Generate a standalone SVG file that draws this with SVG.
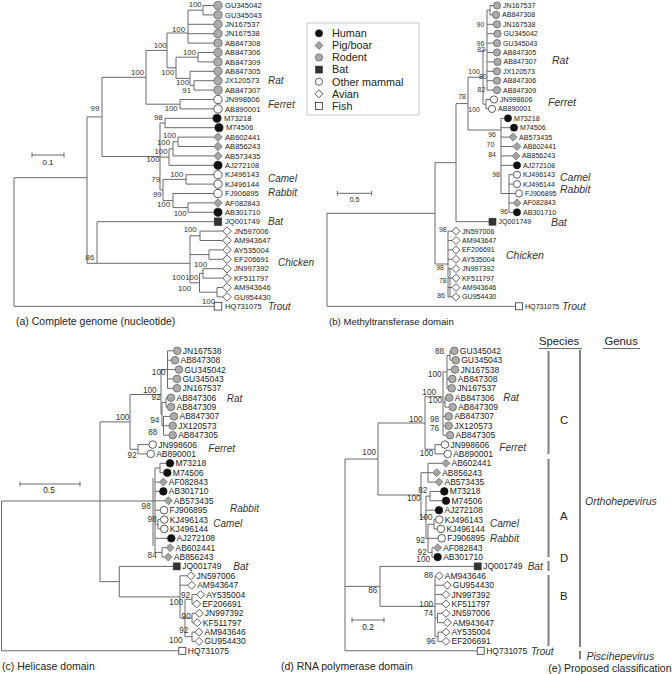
<svg xmlns="http://www.w3.org/2000/svg" xmlns:xlink="http://www.w3.org/1999/xlink" width="672" height="674" viewBox="0 0 672 674">
<defs>
<style>
text{font-family:"Liberation Sans",Arial,sans-serif;fill:#222}
.br{fill:none;stroke:#6a6a6a;stroke-width:1}
.bar{fill:none;stroke:#808080;stroke-width:2}
.hu{fill:#111;stroke:#111;stroke-width:0.6}
.pig{fill:#a3a3a3;stroke:#555;stroke-width:0.6}
.rod{fill:#acacac;stroke:#555;stroke-width:0.7}
.bat{fill:#333;stroke:#333;stroke-width:0.6}
.oth,.avi,.fish{fill:#fff;stroke:#333;stroke-width:0.8}
.ta text{font-size:7.6px}
.tb text{font-size:7.1px}
.tc text{font-size:8.5px}
.bs text{text-anchor:end;fill:#333}
.bsa text{font-size:7.8px}
.bsb text{font-size:7px}
.bsc text{font-size:8.2px}
.sp{font-style:italic;fill:#333}
.cap{font-size:10.5px}
.hd{font-size:11.3px}
.lg{font-size:10.8px}
</style>
<circle id="ca" r="4.1"/>
<path id="da" d="M0,-4.3L4.3,0L0,4.3L-4.3,0Z"/>
<rect id="sa" x="-3.8" y="-3.8" width="7.6" height="7.6"/>
<circle id="cb" r="3.6"/>
<path id="db" d="M0,-4L4,0L0,4L-4,0Z"/>
<rect id="sb" x="-3.5" y="-3.5" width="7" height="7"/>
<circle id="cc" r="3.8"/>
<path id="dc" d="M0,-4L4,0L0,4L-4,0Z"/>
<rect id="sc" x="-3.5" y="-3.5" width="7" height="7"/>
</defs>
<rect width="672" height="674" fill="#fff"/>

<!-- ================= PANEL A ================= -->
<g id="connectors-a">
<path class="br" d="M203 5.5H213.9M203 14.9H213.9M203 5.5V14.9M188 10.2H203M188 24.3H213.9M188 33.7H213.9M188 43.1H213.9M188 10.2V43.1M198 52.5H213.9M198 61.9H213.9M198 52.5V61.9M194 80.7H213.9M194 90.1H213.9M194 80.7V90.1M190 71.3H213.9M190 85.4H194M190 71.3V85.4M176 57.2H198M176 78.35H190M176 57.2V78.35M167 33H188M167 67.8H176M167 33V67.8M180 99.5H213.9M180 108.9H213.9M180 99.5V108.9M146 50.4H167M146 104.2H180M146 50.4V104.2"/>
<path class="br" d="M165 118.3H212.9M165 127.7H214.9M165 118.3V127.7M178 137.1H213.7M178 146.5H213.7M178 137.1V146.5M173 141.8H178M173 155.9H213.7M173 141.8V155.9M169 148.85H173M169 165.3H213.9M169 148.85V165.3M186 174.7H213.9M186 184.1H213.9M186 174.7V184.1M188 202.9H213.7M188 212.3H213.9M188 202.9V212.3M173 193.5H213.9M173 207.6H188M173 193.5V207.6M163 179.4H186M163 200.55H173M163 179.4V200.55M160 123H165M160 157.1H169M160 190H163M160 123V190M102 77.3H146M102 156.5H160M102 77.3V156.5"/>
<path class="br" d="M87 116.9H102M87 116.9V263.3M87 263.3H190M97 221.7H214M97 221.7V263.3M14 177.7H87M14 177.7V306.3M14 306.3H214"/>
<path class="br" d="M190 235.8V282.8M190 235.8H200M200 231.1H222.7M200 240.5H222.7M200 231.1V240.5M190 254.6H209M209 249.9H222.7M209 259.3H222.7M209 249.9V259.3M190 282.8H199.5M199.5 273.4V292.2M199.5 273.4H203M203 268.7H222.7M203 278.1H222.7M203 268.7V278.1M199.5 292.2H217M217 287.5H222.7M217 296.9H222.7M217 287.5V296.9"/>
<path class="br" d="M32 155H64M32 152.5V157.5M64 152.5V157.5"/>
</g>
<g id="leaves-a" class="ta">
<g id="a-GU345042"><use href="#ca" class="rod" x="218" y="5.5"/><text x="225" y="8.2">GU345042</text></g>
<g id="a-GU345043"><use href="#ca" class="rod" x="218" y="14.9"/><text x="225" y="17.6">GU345043</text></g>
<g id="a-JN167537"><use href="#ca" class="rod" x="218" y="24.3"/><text x="225" y="27">JN167537</text></g>
<g id="a-JN167538"><use href="#ca" class="rod" x="218" y="33.7"/><text x="225" y="36.4">JN167538</text></g>
<g id="a-AB847308"><use href="#ca" class="rod" x="218" y="43.1"/><text x="225" y="45.8">AB847308</text></g>
<g id="a-AB847306"><use href="#ca" class="rod" x="218" y="52.5"/><text x="225" y="55.2">AB847306</text></g>
<g id="a-AB847309"><use href="#ca" class="rod" x="218" y="61.9"/><text x="225" y="64.6">AB847309</text></g>
<g id="a-AB847305"><use href="#ca" class="rod" x="218" y="71.3"/><text x="225" y="74">AB847305</text></g>
<g id="a-JX120573"><use href="#ca" class="rod" x="218" y="80.7"/><text x="225" y="83.4">JX120573</text></g>
<g id="a-AB847307"><use href="#ca" class="rod" x="218" y="90.1"/><text x="225" y="92.8">AB847307</text></g>
<g id="a-JN998606"><use href="#ca" class="oth" x="218" y="99.5"/><text x="225" y="102.2">JN998606</text></g>
<g id="a-AB890001"><use href="#ca" class="oth" x="218" y="108.9"/><text x="225" y="111.6">AB890001</text></g>
<g id="a-M73218"><use href="#ca" class="hu" x="217" y="118.3"/><text x="224" y="121">M73218</text></g>
<g id="a-M74506"><use href="#ca" class="hu" x="219" y="127.7"/><text x="226" y="130.4">M74506</text></g>
<g id="a-AB602441"><use href="#da" class="pig" x="218" y="137.1"/><text x="225" y="139.8">AB602441</text></g>
<g id="a-AB856243"><use href="#da" class="pig" x="218" y="146.5"/><text x="225" y="149.2">AB856243</text></g>
<g id="a-AB573435"><use href="#da" class="pig" x="218" y="155.9"/><text x="225" y="158.6">AB573435</text></g>
<g id="a-AJ272108"><use href="#ca" class="hu" x="218" y="165.3"/><text x="225" y="168">AJ272108</text></g>
<g id="a-KJ496143"><use href="#ca" class="oth" x="218" y="174.7"/><text x="225" y="177.4">KJ496143</text></g>
<g id="a-KJ496144"><use href="#ca" class="oth" x="218" y="184.1"/><text x="225" y="186.8">KJ496144</text></g>
<g id="a-FJ906895"><use href="#ca" class="oth" x="218" y="193.5"/><text x="225" y="196.2">FJ906895</text></g>
<g id="a-AF082843"><use href="#da" class="pig" x="218" y="202.9"/><text x="225" y="205.6">AF082843</text></g>
<g id="a-AB301710"><use href="#ca" class="hu" x="218" y="212.3"/><text x="225" y="215">AB301710</text></g>
<g id="a-JQ001749"><use href="#sa" class="bat" x="218" y="221.7"/><text x="225" y="224.4">JQ001749</text></g>
<g id="a-JN597006"><use href="#da" class="avi" x="227" y="231.1"/><text x="234" y="233.8">JN597006</text></g>
<g id="a-AM943647"><use href="#da" class="avi" x="227" y="240.5"/><text x="234" y="243.2">AM943647</text></g>
<g id="a-AY535004"><use href="#da" class="avi" x="227" y="249.9"/><text x="234" y="252.6">AY535004</text></g>
<g id="a-EF206691"><use href="#da" class="avi" x="227" y="259.3"/><text x="234" y="262">EF206691</text></g>
<g id="a-JN997392"><use href="#da" class="avi" x="227" y="268.7"/><text x="234" y="271.4">JN997392</text></g>
<g id="a-KF511797"><use href="#da" class="avi" x="227" y="278.1"/><text x="234" y="280.8">KF511797</text></g>
<g id="a-AM943646"><use href="#da" class="avi" x="227" y="287.5"/><text x="234" y="290.2">AM943646</text></g>
<g id="a-GU954430"><use href="#da" class="avi" x="227" y="296.9"/><text x="234" y="299.6">GU954430</text></g>
<g id="a-HQ731075"><use href="#sa" class="fish" x="218" y="306.3"/><text x="225" y="309">HQ731075</text></g>
</g>
<g id="bootstrap-a" class="bs bsa">
<text x="201.7" y="7.3">100</text><text x="185" y="31.7">100</text><text x="166.7" y="48.3">100</text><text x="196" y="55">100</text><text x="174.3" y="75">100</text><text x="144" y="75">100</text><text x="189" y="85">100</text><text x="191" y="92.7">91</text><text x="99.3" y="111">99</text><text x="177.7" y="111">100</text><text x="162.7" y="120">98</text><text x="176" y="137.5">100</text><text x="170" y="145.3">100</text><text x="167.5" y="153.6">100</text><text x="159.5" y="161.5">100</text><text x="183.3" y="176.7">100</text><text x="160" y="182.3">79</text><text x="161.7" y="197.3">99</text><text x="170" y="207.3">100</text><text x="186.7" y="215.7">100</text><text x="196.7" y="232.3">100</text><text x="94.3" y="260">86</text><text x="207" y="267">100</text><text x="185" y="280">100</text><text x="198.3" y="280">100</text><text x="191" y="290.7">100</text><text x="215" y="304">100</text>
</g>
<text x="48" y="165" text-anchor="middle" font-size="7.8" fill="#333">0.1</text>
<g id="species-a" font-size="10">
<text class="sp" x="268" y="84">Rat</text><text class="sp" x="268" y="108">Ferret</text><text class="sp" x="268" y="182">Camel</text><text class="sp" x="268" y="196">Rabbit</text><text class="sp" x="268" y="225">Bat</text><text class="sp" x="278" y="266">Chicken</text><text class="sp" x="268" y="310">Trout</text>
</g>
<text class="cap" x="16" y="325">(a) Complete genome (nucleotide)</text>

<!-- ================= LEGEND ================= -->
<g id="legend">
<rect x="307" y="23" width="112" height="92" fill="#fff" stroke="#bbb" stroke-width="0.8"/>
<g id="lg-human"><use href="#cb" class="hu" x="319" y="33.3"/><text class="lg" x="332" y="37.1">Human</text></g>
<g id="lg-pig"><use href="#db" class="pig" x="319" y="45.4"/><text class="lg" x="332" y="49.2">Pig/boar</text></g>
<g id="lg-rodent"><use href="#cb" class="rod" x="319" y="57.5"/><text class="lg" x="332" y="61.3">Rodent</text></g>
<g id="lg-bat"><use href="#sb" class="bat" x="319" y="69.6"/><text class="lg" x="332" y="73.4">Bat</text></g>
<g id="lg-other"><use href="#cb" class="oth" x="319" y="81.7"/><text class="lg" x="332" y="85.5">Other mammal</text></g>
<g id="lg-avian"><use href="#db" class="avi" x="319" y="93.8"/><text class="lg" x="332" y="97.6">Avian</text></g>
<g id="lg-fish"><use href="#sb" class="fish" x="319" y="105.9"/><text class="lg" x="332" y="109.7">Fish</text></g>
</g>

<!-- ================= PANEL B ================= -->
<g id="connectors-b">
<path class="br" d="M490 5.5H493.4M490 14.9H492.4M490 5.5V14.9M487 10.2H490M487 10.2V90.1M487 24.3H493.4M487 33.7H493.9M487 43.1H493.4M487 52.5H493.4M487 61.9H493.9M487 71.3H493.4M487 80.7H493.4M487 90.1H493.4M486 99.5H490.4M486 108.9H488.4M486 99.5V108.9M483 50.15H487M483 104.2H486M483 50.15V104.2M468 77.2H483M468 130H501M468 77.2V130M456 103.6H468M456 103.6V221.7M456 221.7H489"/>
<path class="br" d="M501 118.3V193.5M501 118.3H504.4M501 127.7H510.4M501 137.1H509M501 146.5H513M501 155.9H512M501 165.3H513.4M501 193.5H509M509 174.7V212.3M509 174.7H513.4M509 184.1H513.4M509 193.5H515.4M509 202.9H513M509 212.3H513.4"/>
<path class="br" d="M448 231.1V296.9M448 231.1H452M448 240.5H452M448 249.9H452M448 259.3H452M448 268.7H452M448 278.1H452M448 287.5H452M448 296.9H452M450 268.7V296.9M435 162.65H456M435 264H448M435 162.65V264M327 213.3H435M327 213.3V306.3M327 306.3H515.5"/>
<path class="br" d="M337.3 193.3H371.7M337.3 190.8V195.8M371.7 190.8V195.8"/>
</g>
<g id="leaves-b" class="tb">
<g id="b-JN167537"><use href="#cb" class="rod" x="497" y="5.5"/><text x="503" y="8">JN167537</text></g>
<g id="b-AB847308"><use href="#cb" class="rod" x="496" y="14.9"/><text x="502" y="17.4">AB847308</text></g>
<g id="b-JN167538"><use href="#cb" class="rod" x="497" y="24.3"/><text x="503" y="26.8">JN167538</text></g>
<g id="b-GU345042"><use href="#cb" class="rod" x="497.5" y="33.7"/><text x="503.5" y="36.2">GU345042</text></g>
<g id="b-GU345043"><use href="#cb" class="rod" x="497" y="43.1"/><text x="503" y="45.6">GU345043</text></g>
<g id="b-AB847305"><use href="#cb" class="rod" x="497" y="52.5"/><text x="503" y="55">AB847305</text></g>
<g id="b-AB847307"><use href="#cb" class="rod" x="497.5" y="61.9"/><text x="503.5" y="64.4">AB847307</text></g>
<g id="b-JX120573"><use href="#cb" class="rod" x="497" y="71.3"/><text x="503" y="73.8">JX120573</text></g>
<g id="b-AB847306"><use href="#cb" class="rod" x="497" y="80.7"/><text x="503" y="83.2">AB847306</text></g>
<g id="b-AB847309"><use href="#cb" class="rod" x="497" y="90.1"/><text x="503" y="92.6">AB847309</text></g>
<g id="b-JN998606"><use href="#cb" class="oth" x="494" y="99.5"/><text x="500" y="102">JN998606</text></g>
<g id="b-AB890001"><use href="#cb" class="oth" x="492" y="108.9"/><text x="498" y="111.4">AB890001</text></g>
<g id="b-M73218"><use href="#cb" class="hu" x="508" y="118.3"/><text x="514" y="120.8">M73218</text></g>
<g id="b-M74506"><use href="#cb" class="hu" x="514" y="127.7"/><text x="520" y="130.2">M74506</text></g>
<g id="b-AB573435"><use href="#db" class="pig" x="513" y="137.1"/><text x="519" y="139.6">AB573435</text></g>
<g id="b-AB602441"><use href="#db" class="pig" x="517" y="146.5"/><text x="523" y="149">AB602441</text></g>
<g id="b-AB856243"><use href="#db" class="pig" x="516" y="155.9"/><text x="522" y="158.4">AB856243</text></g>
<g id="b-AJ272108"><use href="#cb" class="hu" x="517" y="165.3"/><text x="523" y="167.8">AJ272108</text></g>
<g id="b-KJ496143"><use href="#cb" class="oth" x="517" y="174.7"/><text x="523" y="177.2">KJ496143</text></g>
<g id="b-KJ496144"><use href="#cb" class="oth" x="517" y="184.1"/><text x="523" y="186.6">KJ496144</text></g>
<g id="b-FJ906895"><use href="#cb" class="oth" x="519" y="193.5"/><text x="525" y="196">FJ906895</text></g>
<g id="b-AF082843"><use href="#db" class="pig" x="517" y="202.9"/><text x="523" y="205.4">AF082843</text></g>
<g id="b-AB301710"><use href="#cb" class="hu" x="517" y="212.3"/><text x="523" y="214.8">AB301710</text></g>
<g id="b-JQ001749"><use href="#sb" class="bat" x="492.5" y="221.7"/><text x="498.5" y="224.2">JQ001749</text></g>
<g id="b-JN597006"><use href="#db" class="avi" x="456" y="231.1"/><text x="462" y="233.6">JN597006</text></g>
<g id="b-AM943647"><use href="#db" class="avi" x="456" y="240.5"/><text x="462" y="243">AM943647</text></g>
<g id="b-EF206691"><use href="#db" class="avi" x="456" y="249.9"/><text x="462" y="252.4">EF206691</text></g>
<g id="b-AY535004"><use href="#db" class="avi" x="456" y="259.3"/><text x="462" y="261.8">AY535004</text></g>
<g id="b-JN997392"><use href="#db" class="avi" x="456" y="268.7"/><text x="462" y="271.2">JN997392</text></g>
<g id="b-KF511797"><use href="#db" class="avi" x="456" y="278.1"/><text x="462" y="280.6">KF511797</text></g>
<g id="b-AM943646"><use href="#db" class="avi" x="456" y="287.5"/><text x="462" y="290">AM943646</text></g>
<g id="b-GU954430"><use href="#db" class="avi" x="456" y="296.9"/><text x="462" y="299.4">GU954430</text></g>
<g id="b-HQ731075"><use href="#sb" class="fish" x="519" y="306.3"/><text x="525" y="308.8">HQ731075</text></g>
</g>
<g id="bootstrap-b" class="bs bsb">
<text x="484.3" y="26.7">90</text><text x="484.3" y="45.7">96</text><text x="485" y="52.3">82</text><text x="480" y="74.3">100</text><text x="486.7" y="79">80</text><text x="485.3" y="92.3">82</text><text x="466" y="99">78</text><text x="480" y="111.7">100</text><text x="496" y="136.5">96</text><text x="494.3" y="146.7">70</text><text x="496" y="156.7">84</text><text x="500" y="177">98</text><text x="508" y="214">96</text><text x="446.7" y="232.3">98</text><text x="444" y="270">98</text><text x="446.7" y="283.3">78</text><text x="445" y="298.3">86</text>
</g>
<text x="354.5" y="202" text-anchor="middle" font-size="7" fill="#333">0.5</text>
<g id="species-b" font-size="10.5">
<text class="sp" x="552" y="64">Rat</text><text class="sp" x="548" y="106">Ferret</text><text class="sp" x="560" y="181">Camel</text><text class="sp" x="560" y="193">Rabbit</text><text class="sp" x="551" y="226">Bat</text><text class="sp" x="506" y="259">Chicken</text><text class="sp" x="562" y="309.5">Trout</text>
</g>
<text x="329" y="325" font-size="9.6">(b) Methyltransferase domain</text>

<!-- ================= PANEL C ================= -->
<g id="connectors-c">
<path class="br" d="M167.5 350.8V388.3M167.5 350.8H173.5M167.5 360.2H171.2M167.5 369.6H175.2M167.5 378.9H173.2M167.5 388.3H173.2M166 397.7V407.1M166 397.7H167.2M166 407.1H167.2M163.5 416.4V435.2M163.5 416.4H170.2M163.5 425.8H168.9M163.5 435.2H168.9M162 402.4H166M162 425.8H163.5M162 402.4V425.8M161 369.55H167.5M161 414.1H162M161 369.55V414.1M138 444.6H148.9M138 453.9H146.9M138 444.6V453.9M130 394.5H161M130 449.25H138M130 394.5V449.25M100 421.9H130M100 421.9V581.65M100 581.65H119.3M1.5 501H155M1.5 501V650.8M1.5 650.8H178.8"/>
<path class="br" d="M160 463.3H166.2M160 472.7H163.5M160 463.3V472.7M155 468H160M155 468V552.4M155 482.1H159.3M155 491.4H159.5M155 500.8H164.3M155 510.2H160.2M155 524.25H158M155 538.3H167.5M155 552.4H162M158 519.6V528.9M158 519.6H160.5M158 528.9H160.5M162 547.7V557.1M162 547.7H166M162 557.1H164.3M153 478V546"/>
<path class="br" d="M119.3 566.4V596.9M119.3 566.4H173.2M119.3 596.9H180M180 575.8V618M180 575.8H187M180 585.2H187.7M180 618H185M185 599.25V636.75M185 599.25H192M185 636.75H192M192 594.6V603.9M192 594.6H196.7M192 603.9H192.7M192 613.3V622.7M185 618H192M192 613.3H195.3M192 622.7H193.3M192 632.1V641.4M192 632.1H195M192 641.4H195"/>
<path class="br" d="M20 484H80M20 481.5V486.5M80 481.5V486.5"/>
</g>
<g id="leaves-c" class="tc">
<g id="c-JN167538"><use href="#cc" class="rod" x="177.3" y="350.8"/><text x="182.8" y="353.8">JN167538</text></g>
<g id="c-AB847308"><use href="#cc" class="rod" x="175" y="360.2"/><text x="180.5" y="363.2">AB847308</text></g>
<g id="c-GU345042"><use href="#cc" class="rod" x="179" y="369.6"/><text x="184.5" y="372.6">GU345042</text></g>
<g id="c-GU345043"><use href="#cc" class="rod" x="177" y="378.9"/><text x="182.5" y="381.9">GU345043</text></g>
<g id="c-JN167537"><use href="#cc" class="rod" x="177" y="388.3"/><text x="182.5" y="391.3">JN167537</text></g>
<g id="c-AB847306"><use href="#cc" class="rod" x="171" y="397.7"/><text x="176.5" y="400.7">AB847306</text></g>
<g id="c-AB847309"><use href="#cc" class="rod" x="171" y="407.1"/><text x="176.5" y="410.1">AB847309</text></g>
<g id="c-AB847307"><use href="#cc" class="rod" x="174" y="416.4"/><text x="179.5" y="419.4">AB847307</text></g>
<g id="c-JX120573"><use href="#cc" class="rod" x="172.7" y="425.8"/><text x="178.2" y="428.8">JX120573</text></g>
<g id="c-AB847305"><use href="#cc" class="rod" x="172.7" y="435.2"/><text x="178.2" y="438.2">AB847305</text></g>
<g id="c-JN998606"><use href="#cc" class="oth" x="152.7" y="444.6"/><text x="158.2" y="447.6">JN998606</text></g>
<g id="c-AB890001"><use href="#cc" class="oth" x="150.7" y="453.9"/><text x="156.2" y="456.9">AB890001</text></g>
<g id="c-M73218"><use href="#cc" class="hu" x="170" y="463.3"/><text x="175.5" y="466.3">M73218</text></g>
<g id="c-M74506"><use href="#cc" class="hu" x="167.3" y="472.7"/><text x="172.8" y="475.7">M74506</text></g>
<g id="c-AF082843"><use href="#dc" class="pig" x="163.3" y="482.1"/><text x="168.8" y="485.1">AF082843</text></g>
<g id="c-AB301710"><use href="#cc" class="hu" x="163.3" y="491.4"/><text x="168.8" y="494.4">AB301710</text></g>
<g id="c-AB573435"><use href="#dc" class="pig" x="168.3" y="500.8"/><text x="173.8" y="503.8">AB573435</text></g>
<g id="c-FJ906895"><use href="#cc" class="oth" x="164" y="510.2"/><text x="169.5" y="513.2">FJ906895</text></g>
<g id="c-KJ496143"><use href="#cc" class="oth" x="164.3" y="519.6"/><text x="169.8" y="522.6">KJ496143</text></g>
<g id="c-KJ496144"><use href="#cc" class="oth" x="164.3" y="528.9"/><text x="169.8" y="531.9">KJ496144</text></g>
<g id="c-AJ272108"><use href="#cc" class="hu" x="171.3" y="538.3"/><text x="176.8" y="541.3">AJ272108</text></g>
<g id="c-AB602441"><use href="#dc" class="pig" x="170" y="547.7"/><text x="175.5" y="550.7">AB602441</text></g>
<g id="c-AB856243"><use href="#dc" class="pig" x="168.3" y="557.1"/><text x="173.8" y="560.1">AB856243</text></g>
<g id="c-JQ001749"><use href="#sc" class="bat" x="176.7" y="566.4"/><text x="182.2" y="569.4">JQ001749</text></g>
<g id="c-JN597006"><use href="#dc" class="avi" x="191" y="575.8"/><text x="196.5" y="578.8">JN597006</text></g>
<g id="c-AM943647"><use href="#dc" class="avi" x="191.7" y="585.2"/><text x="197.2" y="588.2">AM943647</text></g>
<g id="c-AY535004"><use href="#dc" class="avi" x="200.7" y="594.6"/><text x="206.2" y="597.6">AY535004</text></g>
<g id="c-EF206691"><use href="#dc" class="avi" x="196.7" y="603.9"/><text x="202.2" y="606.9">EF206691</text></g>
<g id="c-JN997392"><use href="#dc" class="avi" x="199.3" y="613.3"/><text x="204.8" y="616.3">JN997392</text></g>
<g id="c-KF511797"><use href="#dc" class="avi" x="197.3" y="622.7"/><text x="202.8" y="625.7">KF511797</text></g>
<g id="c-AM943646"><use href="#dc" class="avi" x="199" y="632.1"/><text x="204.5" y="635.1">AM943646</text></g>
<g id="c-GU954430"><use href="#dc" class="avi" x="199" y="641.4"/><text x="204.5" y="644.4">GU954430</text></g>
<g id="c-HQ731075"><use href="#sc" class="fish" x="182.3" y="650.8"/><text x="187.8" y="653.8">HQ731075</text></g>
</g>
<g id="bootstrap-c" class="bs bsc">
<text x="165.5" y="375">100</text><text x="156.7" y="392.5">100</text><text x="160.7" y="400">92</text><text x="129.3" y="420">100</text><text x="159.3" y="422.7">94</text><text x="157.3" y="435">88</text><text x="136.7" y="458.3">92</text><text x="150.7" y="509">98</text><text x="156.7" y="521.7">98</text><text x="156.7" y="558.3">84</text><text x="190" y="598">92</text><text x="183" y="605">100</text><text x="190.7" y="619">90</text><text x="188.3" y="632.7">92</text><text x="182.7" y="642.7">100</text>
</g>
<text x="49" y="493" text-anchor="middle" font-size="8.2" fill="#333">0.5</text>
<g id="species-c" font-size="10">
<text class="sp" x="226.7" y="402">Rat</text><text class="sp" x="208.3" y="452">Ferret</text><text class="sp" x="230" y="512">Rabbit</text><text class="sp" x="213.3" y="527">Camel</text><text class="sp" x="233.3" y="570">Bat</text>
</g>
<text class="cap" x="2" y="670">(c) Helicase domain</text>

<!-- ================= PANEL D ================= -->
<g id="connectors-d">
<path class="br" d="M450 350.8V360.2M450 350.8H450.5M450 360.2H451.9M447 355.5H450M447 355.5V388.3M447 369.6H451.2M447 378.9H448.5M447 388.3H447.9M443 371.9H447M443 371.9V435.2M443 402.4H445M445 397.7V407.1M445 397.7H445.5M445 407.1H448.9M443 416.4H444.9M443 425.8H444.9M443 435.2H446.2M435 444.6H441.2M435 453.9H443.9M435 444.6V453.9M425 396.7H443M425 449.25H435M425 396.7V449.25M378 423H425M378 495H421M378 423V495"/>
<path class="br" d="M428 463.3V482.1M428 463.3H442M428 472.7H432.7M428 482.1H435M430 491.4V500.8M430 491.4H440.5M430 500.8H442.2M434 519.6V528.9M434 519.6H435.5M434 528.9H437.2M432 547.7V557.1M432 547.7H433.7M432 557.1H433.9M428 524.25H434M428 538.3H437.9M428 552.4H432M428 524.25V552.4M426 496.1H430M426 510.2H435.2M426 538.3H428M426 496.1V538.3M421 472.7H428M421 517.2H426M421 472.7V517.2"/>
<path class="br" d="M380 566.4H474.2M380 566.4V606.3M380 606.3H435M435 575.8V636.75M435 585.2H443.3M435 594.6H442M435 603.9H442M435 618H437.5M437.5 613.3V622.7M437.5 613.3H442M437.5 622.7H443.3M435 636.75H438M438 632.1V641.4M438 632.1H442M438 641.4H442M345 586.35H380M345 459H378M345 459V650.8M345 650.8H477.2"/>
</g>
<g id="leaves-d" class="tc">
<g id="d-GU345042"><use href="#cc" class="rod" x="454.3" y="350.8"/><text x="459.8" y="353.8">GU345042</text></g>
<g id="d-GU345043"><use href="#cc" class="rod" x="455.7" y="360.2"/><text x="461.2" y="363.2">GU345043</text></g>
<g id="d-JN167538"><use href="#cc" class="rod" x="455" y="369.6"/><text x="460.5" y="372.6">JN167538</text></g>
<g id="d-AB847308"><use href="#cc" class="rod" x="452.3" y="378.9"/><text x="457.8" y="381.9">AB847308</text></g>
<g id="d-JN167537"><use href="#cc" class="rod" x="451.7" y="388.3"/><text x="457.2" y="391.3">JN167537</text></g>
<g id="d-AB847306"><use href="#cc" class="rod" x="449.3" y="397.7"/><text x="454.8" y="400.7">AB847306</text></g>
<g id="d-AB847309"><use href="#cc" class="rod" x="452.7" y="407.1"/><text x="458.2" y="410.1">AB847309</text></g>
<g id="d-AB847307"><use href="#cc" class="rod" x="448.7" y="416.4"/><text x="454.2" y="419.4">AB847307</text></g>
<g id="d-JX120573"><use href="#cc" class="rod" x="448.7" y="425.8"/><text x="454.2" y="428.8">JX120573</text></g>
<g id="d-AB847305"><use href="#cc" class="rod" x="450" y="435.2"/><text x="455.5" y="438.2">AB847305</text></g>
<g id="d-JN998606"><use href="#cc" class="oth" x="445" y="444.6"/><text x="450.5" y="447.6">JN998606</text></g>
<g id="d-AB890001"><use href="#cc" class="oth" x="447.7" y="453.9"/><text x="453.2" y="456.9">AB890001</text></g>
<g id="d-AB602441"><use href="#dc" class="pig" x="446" y="463.3"/><text x="451.5" y="466.3">AB602441</text></g>
<g id="d-AB856243"><use href="#dc" class="pig" x="436.7" y="472.7"/><text x="442.2" y="475.7">AB856243</text></g>
<g id="d-AB573435"><use href="#dc" class="pig" x="439" y="482.1"/><text x="444.5" y="485.1">AB573435</text></g>
<g id="d-M73218"><use href="#cc" class="hu" x="444.3" y="491.4"/><text x="449.8" y="494.4">M73218</text></g>
<g id="d-M74506"><use href="#cc" class="hu" x="446" y="500.8"/><text x="451.5" y="503.8">M74506</text></g>
<g id="d-AJ272108"><use href="#cc" class="hu" x="439" y="510.2"/><text x="444.5" y="513.2">AJ272108</text></g>
<g id="d-KJ496143"><use href="#cc" class="oth" x="439.3" y="519.6"/><text x="444.8" y="522.6">KJ496143</text></g>
<g id="d-KJ496144"><use href="#cc" class="oth" x="441" y="528.9"/><text x="446.5" y="531.9">KJ496144</text></g>
<g id="d-FJ906895"><use href="#cc" class="oth" x="441.7" y="538.3"/><text x="447.2" y="541.3">FJ906895</text></g>
<g id="d-AF082843"><use href="#dc" class="pig" x="437.7" y="547.7"/><text x="443.2" y="550.7">AF082843</text></g>
<g id="d-AB301710"><use href="#cc" class="hu" x="437.7" y="557.1"/><text x="443.2" y="560.1">AB301710</text></g>
<g id="d-JQ001749"><use href="#sc" class="bat" x="477.7" y="566.4"/><text x="483.2" y="569.4">JQ001749</text></g>
<g id="d-AM943646"><use href="#dc" class="avi" x="439.3" y="575.8"/><text x="444.8" y="578.8">AM943646</text></g>
<g id="d-GU954430"><use href="#dc" class="avi" x="447.3" y="585.2"/><text x="452.8" y="588.2">GU954430</text></g>
<g id="d-JN997392"><use href="#dc" class="avi" x="446" y="594.6"/><text x="451.5" y="597.6">JN997392</text></g>
<g id="d-KF511797"><use href="#dc" class="avi" x="446" y="603.9"/><text x="451.5" y="606.9">KF511797</text></g>
<g id="d-JN597006"><use href="#dc" class="avi" x="446" y="613.3"/><text x="451.5" y="616.3">JN597006</text></g>
<g id="d-AM943647"><use href="#dc" class="avi" x="447.3" y="622.7"/><text x="452.8" y="625.7">AM943647</text></g>
<g id="d-AY535004"><use href="#dc" class="avi" x="446" y="632.1"/><text x="451.5" y="635.1">AY535004</text></g>
<g id="d-EF206691"><use href="#dc" class="avi" x="446" y="641.4"/><text x="451.5" y="644.4">EF206691</text></g>
<g id="d-HQ731075"><use href="#sc" class="fish" x="480.7" y="650.8"/><text x="486.2" y="653.8">HQ731075</text></g>
</g>
<g id="bootstrap-d" class="bs bsc">
<text x="444" y="354">88</text><text x="441.7" y="377.3">100</text><text x="436" y="394.8">100</text><text x="442" y="403">100</text><text x="422.7" y="421.7">100</text><text x="439" y="421.7">98</text><text x="439" y="430.7">76</text><text x="376" y="455">100</text><text x="433.3" y="456">100</text><text x="427.3" y="493.3">82</text><text x="420.7" y="500.7">100</text><text x="432.7" y="520">100</text><text x="425" y="543.3">92</text><text x="426.7" y="554.5">92</text><text x="430" y="562">100</text><text x="377.3" y="593">86</text><text x="433" y="577.7">88</text><text x="433" y="606.7">100</text><text x="433" y="616">74</text><text x="435.5" y="644.3">96</text>
</g>
<g id="scale-d"><path class="br" d="M352 620H384M352 617.5V622.5M384 617.5V622.5"/><text x="368" y="630" text-anchor="middle" font-size="8.2" fill="#333">0.2</text></g>
<g id="species-d" font-size="10">
<text class="sp" x="503.3" y="401">Rat</text><text class="sp" x="499.3" y="450.5">Ferret</text><text class="sp" x="490" y="526.5">Camel</text><text class="sp" x="490" y="541.5">Rabbit</text><text class="sp" x="527.7" y="569.5">Bat</text><text class="sp" x="531" y="655">Trout</text>
</g>
<text class="cap" x="281" y="670">(d) RNA polymerase domain</text>

<!-- ================= PANEL E ================= -->
<g id="classification">
<text class="hd" x="539" y="345">Species</text>
<path class="br" d="M539 348.5H582M603 348.5H640" stroke="#333"/>
<text class="hd" x="604.5" y="345">Genus</text>
<g id="sp-C"><path class="bar" d="M548.5 351V454"/><text class="hd" x="560" y="424">C</text></g>
<g id="sp-A"><path class="bar" d="M548.5 459V557"/><text class="hd" x="560" y="520">A</text></g>
<g id="sp-D"><path class="bar" d="M548.5 561V571"/><text class="hd" x="560" y="561.5">D</text></g>
<g id="sp-B"><path class="bar" d="M548.5 575V646"/><text class="hd" x="560" y="600">B</text></g>
<g id="g-ortho"><path class="bar" d="M580 350V647"/><text class="sp" font-size="10.5" x="585" y="505">Orthohepevirus</text></g>
<g id="g-pisci"><path class="bar" d="M580 651V659"/><text class="sp" font-size="10.5" x="586.5" y="659.5">Piscihepevirus</text></g>
<text class="cap" x="671.5" y="671.5" text-anchor="end">(e) Proposed classification</text>
</g>
</svg>
